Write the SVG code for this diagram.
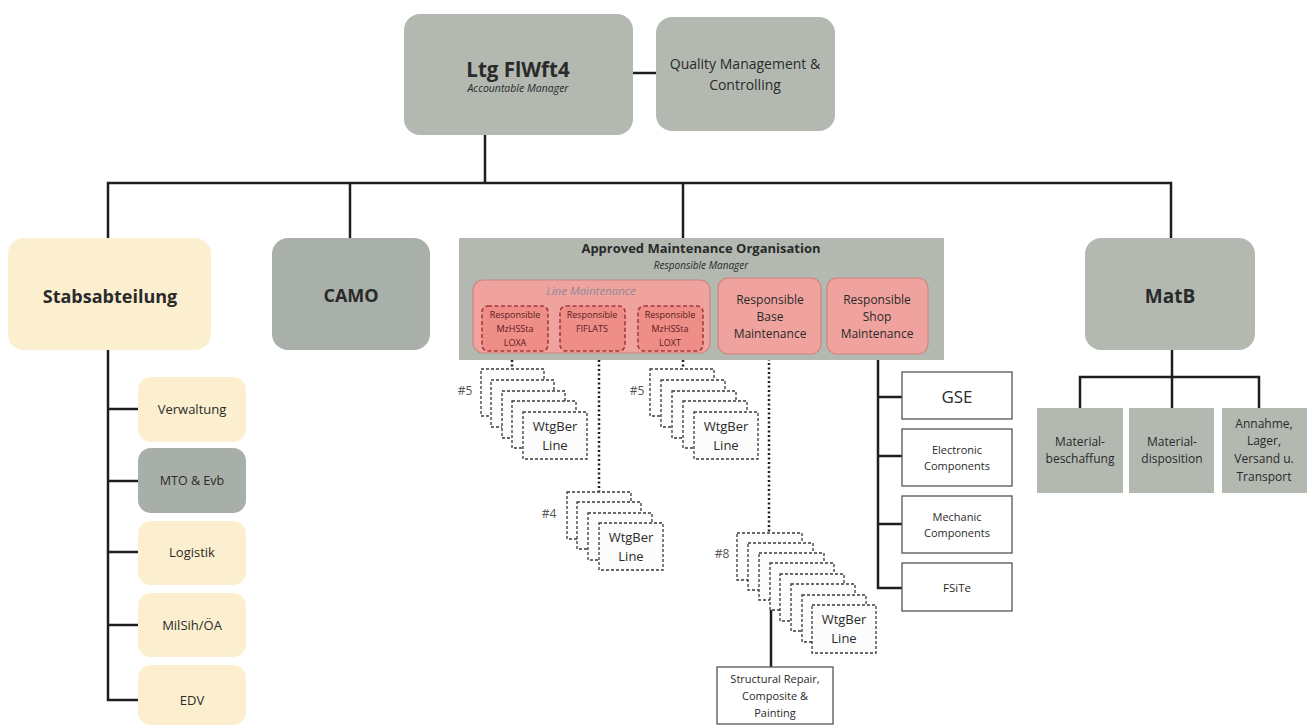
<svg xmlns="http://www.w3.org/2000/svg" width="1311" height="725" viewBox="0 0 1311 725">
<style>
text{font-family:"Open Sans","Liberation Sans",sans-serif;fill:#2a2a2a;text-anchor:middle}
.grey{fill:#b3b9b1}
.cream{fill:#fbefcf}
.salmon{fill:#f0a39e;stroke:#c98680;stroke-width:1.2}
.inner{fill:#ef8d87;stroke:#a53a3a;stroke-width:1.6;stroke-dasharray:4,2.5}
.conn{stroke:#1e1e1e;stroke-width:2.5;fill:none}
.dot{stroke:#1e1e1e;stroke-width:2.5;fill:none;stroke-dasharray:2,2.5}
.stk{fill:#fcfcfc;stroke:#3a3a3a;stroke-width:1.3;stroke-dasharray:3,2}
.wbox{fill:#ffffff;stroke:#555;stroke-width:1.3}
.b{font-weight:700}
.i{font-style:italic}
.lbl{font-size:12px;fill:#555}
.in{font-size:9px;fill:#5a1c1c}
</style>
<g id="connectors">
<line class="conn" x1="633" y1="73" x2="656" y2="73"/>
<polyline class="conn" points="485,135 485,183"/>
<polyline class="conn" points="108,238 108,183 1171,183 1171,238"/>
<line class="conn" x1="350" y1="183" x2="350" y2="238"/>
<line class="conn" x1="683" y1="183" x2="683" y2="238"/>
<polyline class="conn" points="108,350 108,700 138,700"/>
<line class="conn" x1="108" y1="409" x2="138" y2="409"/>
<line class="conn" x1="108" y1="481" x2="138" y2="481"/>
<line class="conn" x1="108" y1="552" x2="138" y2="552"/>
<line class="conn" x1="108" y1="625" x2="138" y2="625"/>
<polyline class="conn" points="1172,350 1172,408"/>
<polyline class="conn" points="1080,408 1080,377 1259,377 1259,408"/>
<polyline class="conn" points="878,354 878,588 902,588"/>
<line class="conn" x1="878" y1="397" x2="902" y2="397"/>
<line class="conn" x1="878" y1="456" x2="902" y2="456"/>
<line class="conn" x1="878" y1="524" x2="902" y2="524"/>
<line class="dot" x1="512" y1="351" x2="512" y2="369"/>
<line class="dot" x1="599" y1="351" x2="599" y2="492"/>
<line class="dot" x1="683" y1="351" x2="683" y2="369"/>
<line class="dot" x1="769" y1="354" x2="769" y2="533"/>
<line class="conn" x1="771" y1="610" x2="771" y2="667"/>
</g>
<g id="n-ltg">
<rect class="grey" x="404" y="14" width="229" height="121" rx="16"/>
<text class="b" x="518" y="77" font-size="20.5">Ltg FlWft4</text>
<text class="i" x="518" y="92" font-size="10.5">Accountable Manager</text>
</g>
<g id="n-qm">
<rect class="grey" x="656" y="17" width="179" height="114" rx="16"/>
<text x="745" y="69" font-size="14">Quality Management &amp;</text>
<text x="745" y="90" font-size="14">Controlling</text>
</g>
<g id="n-stab">
<rect class="cream" x="8" y="238" width="203" height="112" rx="16"/>
<text class="b" x="110" y="303" font-size="18">Stabsabteilung</text>
</g>
<g id="n-verw"><rect class="cream" x="138" y="377" width="108" height="65" rx="13"/><text x="192" y="414" font-size="13">Verwaltung</text></g>
<g id="n-mto"><rect fill="#a8afa8" x="138" y="448" width="108" height="65" rx="13"/><text x="192" y="485" font-size="12.5">MTO &amp; Evb</text></g>
<g id="n-log"><rect class="cream" x="138" y="521" width="108" height="64" rx="13"/><text x="192" y="557" font-size="13">Logistik</text></g>
<g id="n-milsih"><rect class="cream" x="138" y="593" width="108" height="64" rx="13"/><text x="192" y="630" font-size="13">MilSih/ÖA</text></g>
<g id="n-edv"><rect class="cream" x="138" y="665" width="108" height="60" rx="13"/><text x="192" y="705" font-size="13">EDV</text></g>
<g id="n-camo">
<rect fill="#a9b0a9" x="272" y="238" width="158" height="112" rx="16"/>
<text class="b" x="351" y="302" font-size="18">CAMO</text>
</g>
<g id="n-amo">
<rect class="grey" x="459" y="238" width="485" height="122"/>
<text class="b" x="701" y="253" font-size="13">Approved Maintenance Organisation</text>
<text class="i" x="701" y="269" font-size="10">Responsible Manager</text>
</g>
<g id="n-line">
<rect class="salmon" x="473" y="280" width="237" height="73" rx="10"/>
<text class="i" x="591" y="295" font-size="11.5" style="fill:#8c8a96">Line Maintenance</text>
</g>
<g id="n-loxa">
<rect class="inner" x="482" y="306" width="66" height="45" rx="6"/>
<text class="in" x="515" y="318">Responsible</text>
<text class="in" x="515" y="332">MzHSSta</text>
<text class="in" x="515" y="346">LOXA</text>
</g>
<g id="n-flats">
<rect class="inner" x="560" y="306" width="65" height="45" rx="6"/>
<text class="in" x="592" y="318">Responsible</text>
<text class="in" x="592" y="332">FlFLATS</text>
</g>
<g id="n-loxt">
<rect class="inner" x="638" y="306" width="65" height="45" rx="6"/>
<text class="in" x="670" y="318">Responsible</text>
<text class="in" x="670" y="332">MzHSSta</text>
<text class="in" x="670" y="346">LOXT</text>
</g>
<g id="n-base">
<rect class="salmon" x="718" y="278" width="103" height="76" rx="10"/>
<text x="770" y="304" font-size="12">Responsible</text>
<text x="770" y="321" font-size="12">Base</text>
<text x="770" y="338" font-size="12">Maintenance</text>
</g>
<g id="n-shop">
<rect class="salmon" x="827" y="278" width="101" height="76" rx="10"/>
<text x="877" y="304" font-size="12">Responsible</text>
<text x="877" y="321" font-size="12">Shop</text>
<text x="877" y="338" font-size="12">Maintenance</text>
</g>
<g id="n-stack1">
<text class="lbl" x="465" y="395">#5</text>
<rect class="stk" x="481" y="369" width="63" height="47"/>
<rect class="stk" x="491" y="380" width="63" height="47"/>
<rect class="stk" x="502" y="391" width="63" height="47"/>
<rect class="stk" x="512" y="401" width="64" height="47"/>
<rect class="stk" x="523" y="412" width="64" height="47"/>
<text x="555" y="431" font-size="13">WtgBer</text>
<text x="555" y="450" font-size="13">Line</text>
</g>
<g id="n-stack2">
<text class="lbl" x="549" y="518">#4</text>
<rect class="stk" x="567" y="492" width="64" height="47"/>
<rect class="stk" x="577" y="502" width="64" height="47"/>
<rect class="stk" x="588" y="513" width="64" height="47"/>
<rect class="stk" x="599" y="523" width="64" height="47"/>
<text x="631" y="542" font-size="13">WtgBer</text>
<text x="631" y="561" font-size="13">Line</text>
</g>
<g id="n-stack3">
<text class="lbl" x="637" y="395">#5</text>
<rect class="stk" x="650" y="369" width="64" height="47"/>
<rect class="stk" x="661" y="380" width="64" height="47"/>
<rect class="stk" x="672" y="391" width="64" height="47"/>
<rect class="stk" x="683" y="401" width="64" height="47"/>
<rect class="stk" x="694" y="412" width="64" height="47"/>
<text x="726" y="431" font-size="13">WtgBer</text>
<text x="726" y="450" font-size="13">Line</text>
</g>
<g id="n-stack4">
<text class="lbl" x="722" y="558">#8</text>
<rect class="stk" x="737" y="533" width="65" height="47"/>
<rect class="stk" x="748" y="543" width="65" height="47"/>
<rect class="stk" x="759" y="553" width="65" height="47"/>
<rect class="stk" x="770" y="563" width="64" height="47"/>
<rect class="stk" x="780" y="574" width="64" height="47"/>
<rect class="stk" x="791" y="584" width="64" height="47"/>
<rect class="stk" x="802" y="595" width="64" height="47"/>
<rect class="stk" x="812" y="605" width="64" height="48"/>
<text x="844" y="624" font-size="13">WtgBer</text>
<text x="844" y="643" font-size="13">Line</text>
</g>
<g id="n-struct">
<rect class="wbox" x="717" y="667" width="116" height="57"/>
<text x="775" y="683" font-size="11">Structural Repair,</text>
<text x="775" y="700" font-size="11">Composite &amp;</text>
<text x="775" y="717" font-size="11">Painting</text>
</g>
<g id="n-gse"><rect class="wbox" x="902" y="372" width="110" height="47"/><text x="957" y="403" font-size="17">GSE</text></g>
<g id="n-elec"><rect class="wbox" x="902" y="429" width="110" height="57"/><text x="957" y="454" font-size="11">Electronic</text><text x="957" y="470" font-size="11">Components</text></g>
<g id="n-mech"><rect class="wbox" x="902" y="496" width="110" height="57"/><text x="957" y="521" font-size="11">Mechanic</text><text x="957" y="537" font-size="11">Components</text></g>
<g id="n-fsite"><rect class="wbox" x="902" y="563" width="110" height="48"/><text x="957" y="592" font-size="11.5">FSiTe</text></g>
<g id="n-matb">
<rect class="grey" x="1085" y="238" width="170" height="112" rx="16"/>
<text class="b" x="1170" y="303" font-size="19">MatB</text>
</g>
<g id="n-mb1"><rect class="grey" x="1037" y="408" width="86" height="85"/><text x="1080" y="446" font-size="12">Material-</text><text x="1080" y="463" font-size="12">beschaffung</text></g>
<g id="n-mb2"><rect class="grey" x="1129" y="408" width="85" height="85"/><text x="1172" y="446" font-size="12">Material-</text><text x="1172" y="463" font-size="12">disposition</text></g>
<g id="n-mb3"><rect class="grey" x="1222" y="408" width="85" height="85"/><text x="1264" y="428" font-size="12">Annahme,</text><text x="1264" y="445" font-size="12">Lager,</text><text x="1264" y="463" font-size="12">Versand u.</text><text x="1264" y="481" font-size="12">Transport</text></g>
</svg>
